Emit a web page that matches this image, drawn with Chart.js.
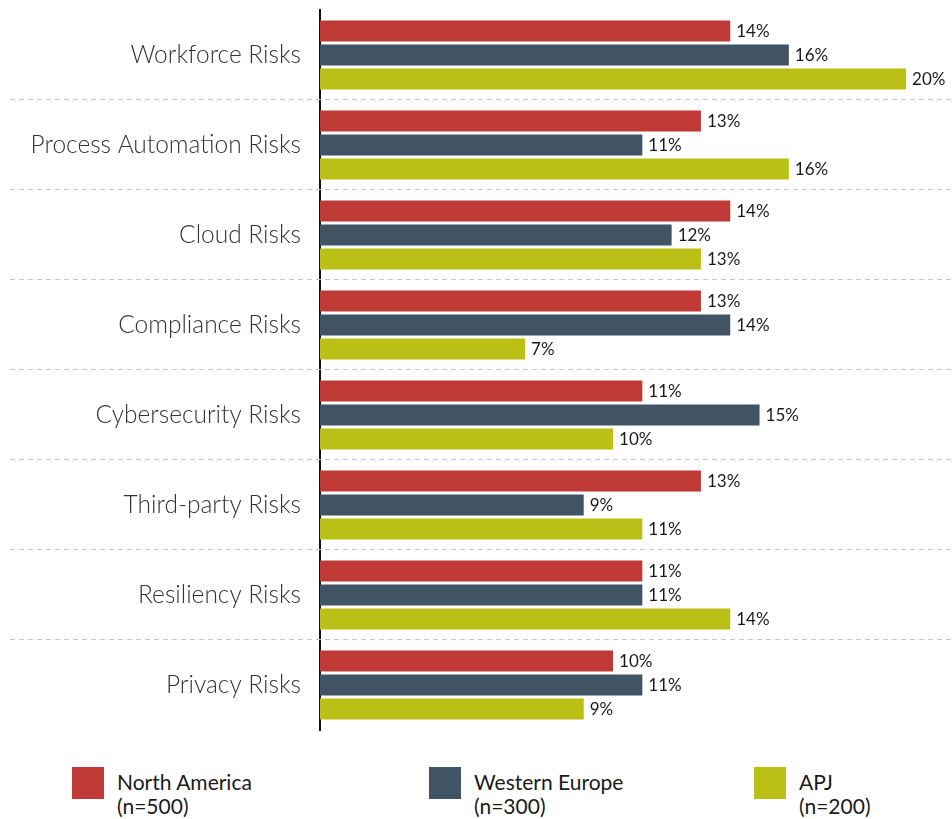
<!DOCTYPE html>
<html>
<head>
<meta charset="utf-8">
<script src="https://cdn.jsdelivr.net/npm/chart.js@4"></script>
<style>
  html, body { margin: 0; padding: 0; background: #fff; }
  body { width: 952px; height: 819px; position: relative; overflow: hidden; font-family: Lato, "Open Sans", sans-serif; }
  #chartWrap { position: absolute; left: 0; top: 0; width: 952px; height: 740px; }
  .legend-item { position: absolute; top: 767px; display: flex; align-items: flex-start; }
  .legend-item .swatch { width: 32px; height: 32px; margin-right: 13px; flex: none; }
  .legend-item .txt { font-size: 21px; line-height: 24px; color: #1a1a1a; font-weight: 400; margin-top: 3px; }
</style>
</head>
<body>
<div id="chartWrap"><canvas id="riskChart"></canvas></div>
<div id="legend"></div>
<script>
const categories = [
  "Workforce Risks",
  "Process Automation Risks",
  "Cloud Risks",
  "Compliance Risks",
  "Cybersecurity Risks",
  "Third-party Risks",
  "Resiliency Risks",
  "Privacy Risks",
];
const seriesNames = ["North America", "Western Europe", "APJ"];
const sampleSizes = ["(n=500)", "(n=300)", "(n=200)"];
const northAmerica = [14, 13, 14, 13, 11, 13, 11, 10];
const westernEurope = [16, 11, 12, 14, 15, 9, 11, 11];
const apj = [20, 16, 13, 7, 10, 11, 14, 9];

const colors = ["#bf3a37", "#415464", "#bac016"];
const legendX = [72, 429, 754];

// dashed separators between category groups, running across the full width
const groupSeparators = {
  id: "groupSeparators",
  beforeDatasetsDraw(chart) {
    const y = chart.scales.y;
    const ctx = chart.ctx;
    ctx.save();
    ctx.strokeStyle = "#c6c6c6";
    ctx.lineWidth = 1;
    ctx.setLineDash([5, 4]);
    for (let i = 0; i < categories.length - 1; i++) {
      const py = Math.round((y.getPixelForValue(i) + y.getPixelForValue(i + 1)) / 2) - 0.5;
      ctx.beginPath();
      ctx.moveTo(10, py);
      ctx.lineTo(chart.width, py);
      ctx.stroke();
    }
    ctx.restore();
  },
};

// percentage labels at the end of each bar
const valueLabels = {
  id: "valueLabels",
  afterDatasetsDraw(chart) {
    const ctx = chart.ctx;
    ctx.save();
    ctx.font = "400 17px Lato";
    ctx.fillStyle = "#1a1a1a";
    ctx.textAlign = "left";
    ctx.textBaseline = "middle";
    chart.data.datasets.forEach((ds, di) => {
      chart.getDatasetMeta(di).data.forEach((bar, i) => {
        ctx.fillText(ds.data[i] + "%", bar.x + 6, bar.y + 1);
      });
    });
    ctx.restore();
  },
};

new Chart(document.getElementById("riskChart"), {
  type: "bar",
  data: {
    labels: categories,
    datasets: [northAmerica, westernEurope, apj].map((d, i) => ({
      label: seriesNames[i],
      data: d,
      backgroundColor: colors[i],
      categoryPercentage: 0.8,
      barPercentage: 0.875,
    })),
  },
  options: {
    indexAxis: "y",
    responsive: true,
    maintainAspectRatio: false,
    animation: false,
    layout: { padding: { top: 10, bottom: 10, left: 0, right: 2 } },
    plugins: {
      legend: { display: false },
      tooltip: { enabled: false },
    },
    scales: {
      x: {
        display: false,
        min: 0,
        max: 21.5,
      },
      y: {
        afterFit: (scale) => {
          scale.width = 320;
          scale.paddingTop = 0;
          scale.paddingBottom = 0;
        },
        grid: { display: false, drawTicks: false },
        border: { display: true, color: "#111", width: 2 },
        ticks: {
          padding: 19,
          color: "#333",
          font: { family: "Lato", size: 24.5, weight: 300 },
        },
      },
    },
  },
  plugins: [groupSeparators, valueLabels],
});

// legend with sample sizes on a second line
const legendEl = document.getElementById("legend");
seriesNames.forEach((name, i) => {
  const item = document.createElement("div");
  item.className = "legend-item";
  item.style.left = legendX[i] + "px";
  item.innerHTML =
    '<div class="swatch" style="background:' + colors[i] + '"></div>' +
    '<div class="txt">' + name + "<br>" + sampleSizes[i] + "</div>";
  legendEl.appendChild(item);
});
</script>
</body>
</html>
